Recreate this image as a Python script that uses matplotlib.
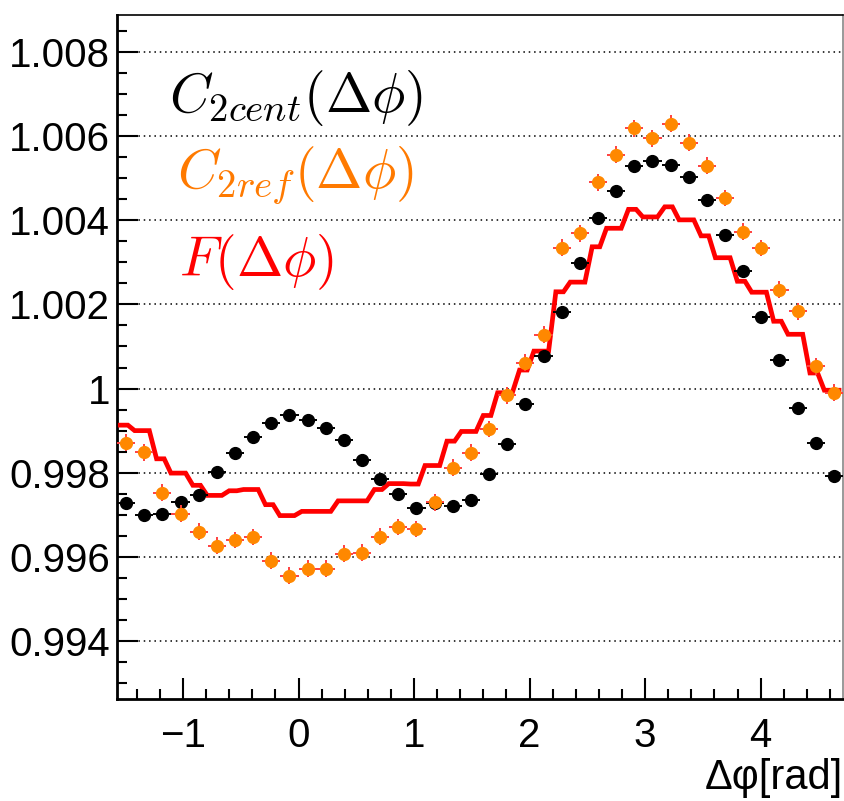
import numpy as np
import matplotlib
matplotlib.use("Agg")
import matplotlib.pyplot as plt
from matplotlib.ticker import MultipleLocator

plt.rcParams['font.family'] = ['Liberation Sans', 'DejaVu Sans']
plt.rcParams['mathtext.fontset'] = 'cm'

# ---------------- data ----------------
n_bins = 40
x_min, x_max = -np.pi / 2, 3 * np.pi / 2

c2cent = [0.99728, 0.99700, 0.99702, 0.99730, 0.99748, 0.99801, 0.99847, 0.99884,
          0.99919, 0.99937, 0.99925, 0.99906, 0.99877, 0.99829, 0.99786, 0.99750,
          0.99717, 0.99728, 0.99720, 0.99734, 0.99798, 0.99868, 0.99964, 1.00078,
          1.00183, 1.00299, 1.00406, 1.00469, 1.00528, 1.00541, 1.00531, 1.00503,
          1.00449, 1.00365, 1.00279, 1.00169, 1.00067, 0.99954, 0.99871, 0.99792]

c2ref = [0.99871, 0.99848, 0.99752, 0.99702, 0.99660, 0.99626, 0.99640, 0.99647,
         0.99591, 0.99555, 0.99572, 0.99572, 0.99607, 0.99610, 0.99648, 0.99671,
         0.99666, 0.99730, 0.99812, 0.99847, 0.99904, 0.99984, 1.00061, 1.00128,
         1.00335, 1.00369, 1.00490, 1.00556, 1.00619, 1.00595, 1.00630, 1.00584,
         1.00530, 1.00453, 1.00373, 1.00334, 1.00235, 1.00184, 1.00053, 0.99990]
c2ref_err = 0.0002

f_levels = [0.99913, 0.99900, 0.99833, 0.99799, 0.99770, 0.99746, 0.99757, 0.99760,
            0.99724, 0.99698, 0.99708, 0.99708, 0.99733, 0.99733, 0.99760, 0.99774,
            0.99773, 0.99817, 0.99875, 0.99898, 0.99936, 0.99990, 1.00044, 1.00089,
            1.00230, 1.00253, 1.00337, 1.00381, 1.00426, 1.00408, 1.00432, 1.00401,
            1.00363, 1.00311, 1.00255, 1.00229, 1.00160, 1.00129, 1.00037, 0.99996]

yticks = [0.994, 0.996, 0.998, 1.000, 1.002, 1.004, 1.006, 1.008]
ytick_labels = ['0.994', '0.996', '0.998', '1', '1.002', '1.004', '1.006', '1.008']
xticks = [-1, 0, 1, 2, 3, 4]
xtick_labels = ['\u22121', '0', '1', '2', '3', '4']

labels = [r'$C_{2cent}(\Delta\phi)$', r'$C_{2ref}(\Delta\phi)$', r'$F(\Delta\phi)$']
x_title = '\u0394\u03c6[rad]'

# ---------------- figure ----------------
edges = np.linspace(x_min, x_max, n_bins + 1)
w = edges[1] - edges[0]
centers = 0.5 * (edges[:-1] + edges[1:])

fig = plt.figure(figsize=(8.45, 8.01), dpi=100)
ax = fig.add_axes([117 / 845, 1 - 699 / 801, 726 / 845, 684 / 801])

ax.set_xlim(x_min, x_max)
ax.set_ylim(0.99262, 1.00888)

# grid
for yv in yticks:
    ax.axhline(yv, color='black', lw=1.1, ls=(0, (1, 2.5)), zorder=1)

# F line (stepped polyline)
fx, fy = [], []
for i, lev in enumerate(f_levels):
    if i % 2 == 0:
        a, b = 0.18, 0.60
    else:
        a, b = -0.03, 0.78
    fx += [edges[i] + a * w, edges[i] + b * w]
    fy += [lev, lev]
ax.plot(fx, fy, color='#ff0000', lw=3.4, zorder=3, solid_joinstyle='miter')

# C2cent points
ax.errorbar(centers, c2cent, xerr=w / 2, fmt='o', color='black', ms=8.5,
            elinewidth=1.4, capsize=0, zorder=4)

# C2ref points
ax.errorbar(centers, c2ref, xerr=w / 2, yerr=c2ref_err, fmt='o', mfc='#ff8800',
            mec='#ff8800', ms=8.5, ecolor='#ff4040', elinewidth=1.4, capsize=0,
            zorder=5)

# labels in plot
ax.text(0.072, 0.878, labels[0], transform=ax.transAxes, fontsize=40,
        color='black', va='center', ha='left')
ax.text(0.083, 0.766, labels[1], transform=ax.transAxes, fontsize=40,
        color='#ff7a00', va='center', ha='left')
ax.text(0.086, 0.639, labels[2], transform=ax.transAxes, fontsize=40,
        color='#ff0000', va='center', ha='left')

# ticks
ax.set_yticks(yticks)
ax.set_yticklabels(ytick_labels)
ax.set_xticks(xticks)
ax.set_xticklabels(xtick_labels)
ax.xaxis.set_minor_locator(MultipleLocator(0.2))
ax.yaxis.set_minor_locator(MultipleLocator(0.0005))
ax.tick_params(which='both', direction='in', top=False, right=False, labelsize=29,
               width=1.5)
ax.tick_params(which='major', length=15)
ax.tick_params(which='minor', length=7.5)
ax.tick_params(axis='x', which='major', pad=13)
ax.tick_params(axis='y', which='major', pad=5)

ax.set_xlabel(x_title, fontsize=30, loc='right', labelpad=2)

for s in ['left', 'bottom']:
    ax.spines[s].set_linewidth(2)
ax.spines['top'].set_linewidth(1.2)
ax.spines['right'].set_linewidth(1.2)
ax.spines['right'].set_color('#888888')

fig.savefig('out.png', dpi=100)
